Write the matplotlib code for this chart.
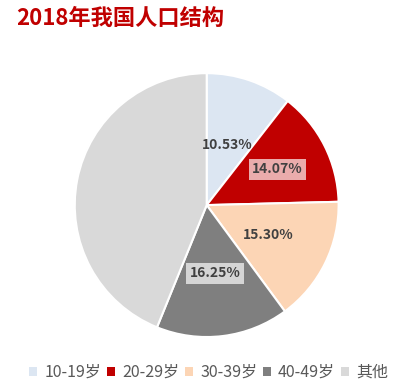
import numpy as np
import matplotlib
matplotlib.use("Agg")
import matplotlib.pyplot as plt
from matplotlib.patches import Patch

plt.rcParams['font.family'] = ['Noto Sans CJK SC', 'DejaVu Sans']

# donnees
groupes = ["10-19岁", "20-29岁", "30-39岁", "40-49岁", "其他"]
parts = [10.53, 14.07, 15.30, 16.25, 43.85]
couleurs = ["#DCE6F2", "#C00000", "#FCD5B5", "#7F7F7F", "#D9D9D9"]
etiquettes = ["10.53%", "14.07%", "15.30%", "16.25%", ""]

fig = plt.figure(figsize=(4.09, 3.88), dpi=100)
fig.text(0.04, 0.953, "2018年我国人口结构", color="#C00000", fontsize=16,
         fontweight="bold", va="center", ha="left")

ax = fig.add_axes([0.1826, 0.1314, 0.6455, 0.680])
wedges, _ = ax.pie(parts, colors=couleurs, startangle=90, counterclock=False,
                   wedgeprops=dict(edgecolor="white", linewidth=1.5))
ax.set_xlim(-1, 1)
ax.set_ylim(-1, 1)

# position des etiquettes dans chaque part
dist = [0.48, 0.6, 0.52, 0.52, 0.5]
boites = [False, True, False, True, False]
for w, lab, d, b in zip(wedges, etiquettes, dist, boites):
    if not lab:
        continue
    a = np.deg2rad((w.theta1 + w.theta2) / 2)
    bb = dict(facecolor="white", alpha=0.68, edgecolor="none", pad=2.5) if b else None
    ax.text(d * np.cos(a), d * np.sin(a), lab, ha="center", va="center",
            fontsize=10, fontweight="bold", color="#404040", bbox=bb)

handles = [Patch(facecolor=c, edgecolor="none") for c in couleurs]
leg = fig.legend(handles, groupes, loc="center", bbox_to_anchor=(0.51, 0.04),
                 ncol=5, frameon=False, fontsize=11.5, handlelength=0.5,
                 handleheight=0.5, handletextpad=0.45, columnspacing=0.35)
for t in leg.get_texts():
    t.set_color("#595959")

fig.savefig("out.png", dpi=100)
